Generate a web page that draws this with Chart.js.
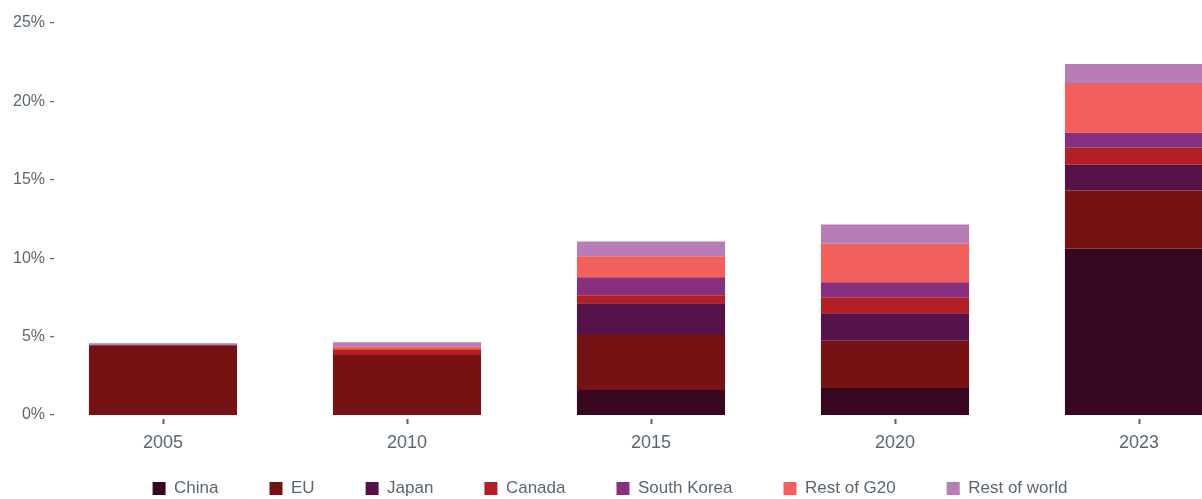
<!DOCTYPE html>
<html lang="en">
<head>
  <meta charset="UTF-8">
  <title>Share by country</title>
  <style>
    html, body {
      margin: 0;
      padding: 0;
      background: #ffffff;
      overflow: hidden;
    }
    .wrap {
      position: relative;
      width: 1261px;
      height: 499px;
    }
  </style>
</head>
<body>
  <div class="wrap">
    <canvas id="chart"></canvas>
  </div>

  <script src="https://cdn.jsdelivr.net/npm/chart.js@4.4.1/dist/chart.umd.min.js"></script>
  <script>
    const years = ['2005', '2010', '2015', '2020', '2023'];
    const yTicks = [0, 5, 10, 15, 20, 25];

    const china      = [0,    0,    1.59, 1.72, 10.62];
    const eu         = [4.45, 3.82, 3.58, 3.05, 3.69];
    const japan      = [0,    0,    1.95, 1.72, 1.66];
    const canada     = [0,    0.38, 0.51, 1.02, 1.08];
    const southKorea = [0,    0,    1.15, 0.95, 0.95];
    const restG20    = [0,    0.19, 1.35, 2.48, 3.18];
    const restWorld  = [0.13, 0.25, 0.94, 1.21, 1.21];

    const textColor = '#5c6670';
    const fontFamily = "'Liberation Sans', Arial, sans-serif";

    function ds(label, data, color) {
      return {
        label: label,
        data: data,
        backgroundColor: color,
        borderWidth: 0,
        categoryPercentage: 1,
        barPercentage: 0.607
      };
    }

    // x labels sit in the empty top part of the legend box, so let them overflow the axis box
    const labelRoom = {
      id: 'labelRoom',
      afterLayout(chart) {
        const x = chart.scales.x;
        x.bottom = x.top + 40;
        x.height = 40;
      }
    };

    new Chart(document.getElementById('chart'), {
      type: 'bar',
      data: {
        labels: years,
        datasets: [
          ds('China', china, '#37061f'),
          ds('EU', eu, '#751214'),
          ds('Japan', japan, '#541249'),
          ds('Canada', canada, '#b31f25'),
          ds('South Korea', southKorea, '#88307d'),
          ds('Rest of G20', restG20, '#f1605c'),
          ds('Rest of world', restWorld, '#b87db7')
        ]
      },
      plugins: [labelRoom],
      options: {
        responsive: true,
        maintainAspectRatio: false,
        animation: false,
        layout: {
          padding: { left: -41, right: 0, top: 23, bottom: -8 }
        },
        plugins: {
          tooltip: { enabled: false },
          legend: {
            position: 'bottom',
            labels: {
              boxWidth: 13,
              boxHeight: 13,
              padding: 51,
              color: textColor,
              font: { family: fontFamily, size: 17 }
            }
          }
        },
        scales: {
          x: {
            stacked: true,
            afterFit: function(scale) { scale.height = 14; },
            grid: {
              display: true,
              offset: false,
              drawOnChartArea: false,
              drawTicks: true,
              tickLength: 9,
              tickWidth: 2,
              tickColor: textColor,
              tickBorderDash: [0, 4, 5, 40]
            },
            border: { display: false },
            ticks: {
              color: textColor,
              padding: 8,
              font: { family: fontFamily, size: 18 }
            }
          },
          y: {
            stacked: true,
            min: 0,
            max: 25,
            afterFit: function(scale) { scale.width = 82; },
            afterBuildTicks: function(scale) {
              scale.ticks = yTicks.map(function(v) { return { value: v }; });
            },
            grid: { display: false },
            border: { display: false },
            ticks: {
              color: textColor,
              mirror: true,
              crossAlign: 'far',
              padding: -28,
              font: { family: fontFamily, size: 16 },
              callback: function(v) { return v + '% -'; }
            }
          }
        }
      }
    });
  </script>
</body>
</html>
